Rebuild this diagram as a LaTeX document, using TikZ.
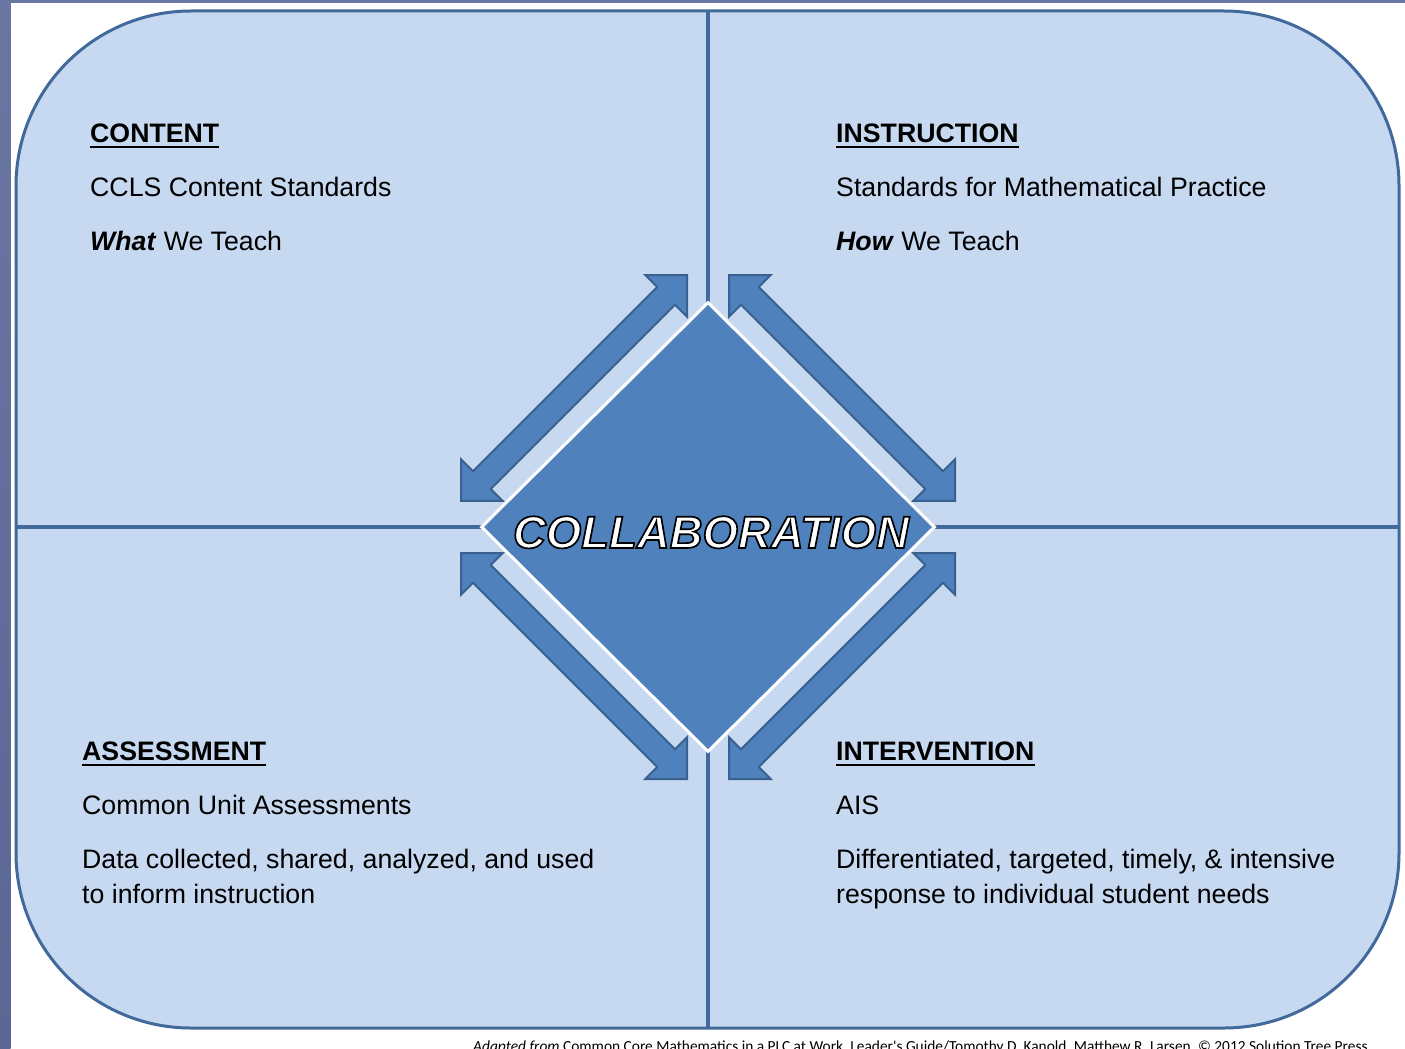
\documentclass[tikz,border=0pt]{standalone}
\usepackage{fontspec}
\setmainfont{Liberation Sans}
\newfontfamily\footfont{Carlito}
\usetikzlibrary{shapes.geometric}
\definecolor{panelfill}{HTML}{C6D9F0}
\definecolor{panelline}{HTML}{41699B}
\definecolor{midblue}{HTML}{4F81BD}
\definecolor{arrowline}{HTML}{3A6090}
\definecolor{striptop}{HTML}{6A76A2}
\definecolor{stripbot}{HTML}{5A6794}
\newcommand\hdr[1]{\setbox0\hbox{\bfseries #1}\rlap{\rule[-6.2pt]{\wd0}{2.6pt}}\box0}
\newcommand\outlinedtext[1]{\special{pdf:literal direct 2 Tr 1.7 w 0 G}#1\special{pdf:literal direct 0 Tr}}
\newcommand\dblarrow[2]{%
  \filldraw[arrowshape, shift={#1}, rotate=#2]
    (0,0) -- (29.5,29.5) -- (29.5,12.5) -- (290.1,12.5) -- (290.1,29.5) -- (319.6,0)
    -- (290.1,-29.5) -- (290.1,-12.5) -- (29.5,-12.5) -- (29.5,-29.5) -- cycle;}
\tikzset{
  arrowshape/.style={fill=midblue, draw=arrowline, line width=2pt, line join=miter},
  divider/.style={draw=panelline, line width=4pt},
  txt/.style={anchor=base west, inner sep=0pt, text=black, font=\fontsize{26.7}{32}\selectfont},
  foot/.style={anchor=base west, inner sep=0pt, text=black, font=\footfont\fontsize{15.4}{18}\selectfont},
}
\begin{document}
\begin{tikzpicture}[x=1pt, y=-1pt]
\useasboundingbox (0,0) rectangle (1405,1049);
\clip (0,0) rectangle (1405,1049);
% page background
\fill[white] (0,0) rectangle (1405,1049);
\shade[top color=striptop, bottom color=stripbot] (0,0) rectangle (10.5,1049);
\fill[striptop] (0,0) rectangle (1405,3.5);
% panel
\filldraw[fill=panelfill, draw=panelline, line width=3pt, rounded corners=175pt] (16,11) rectangle (1399,1028);
% dividers
\coordinate (vtop) at (708,11);
\coordinate (vbot) at (708,1028);
\coordinate (hleft) at (16,527);
\coordinate (hright) at (1399,527);
\draw[divider] (vtop) -- (vbot);
\draw[divider] (hleft) -- (hright);
% arrows
\dblarrow{(687,275)}{225}
\dblarrow{(729,275)}{-45}
\dblarrow{(687,779)}{135}
\dblarrow{(729,779)}{45}
% diamond
\node[diamond, shape aspect=1, minimum width=454pt, minimum height=450pt, inner sep=0pt,
      fill=midblue, draw=white, line width=3pt] (collab) at (708,527) {};
% top-left
\node[txt] (content) at (90,142) {\hdr{CONTENT}};
\node[txt] (ccls) at (90,196) {CCLS Content Standards};
\node[txt] (what) at (90,250) {\textbf{\textit{What}} We Teach};
% top-right
\node[txt] (instr) at (836,142) {\hdr{INSTRUCTION}};
\node[txt] (smp) at (836,196) {Standards for Mathematical Practice};
\node[txt] (how) at (836,250) {\textbf{\textit{How}} We Teach};
% bottom-left
\node[txt] (assess) at (82,760) {\hdr{ASSESSMENT}};
\node[txt] (cua) at (82,814) {Common Unit Assessments};
\node[txt] (data1) at (82,868) {Data collected, shared, analyzed, and used};
\node[txt] (data2) at (82,903) {to inform instruction};
% bottom-right
\node[txt] (interv) at (836,760) {\hdr{INTERVENTION}};
\node[txt] (ais) at (836,814) {AIS};
\node[txt] (diff1) at (836,868) {Differentiated, targeted, timely, \& intensive};
\node[txt] (diff2) at (836,903) {response to individual student needs};
% footer
\node[foot] (source) at (473,1051) {\textit{Adapted from} Common Core Mathematics in a PLC at Work, Leader's Guide/Tomothy D. Kanold, Matthew R. Larsen, \copyright{} 2012 Solution Tree Press};
% centre label
\node[anchor=base, inner sep=0pt, text=white, font=\fontsize{45.5}{52}\selectfont\bfseries\itshape] (collabtxt) at (711,548)
  {\outlinedtext{COLLABORATION}};
\end{tikzpicture}
\end{document}
